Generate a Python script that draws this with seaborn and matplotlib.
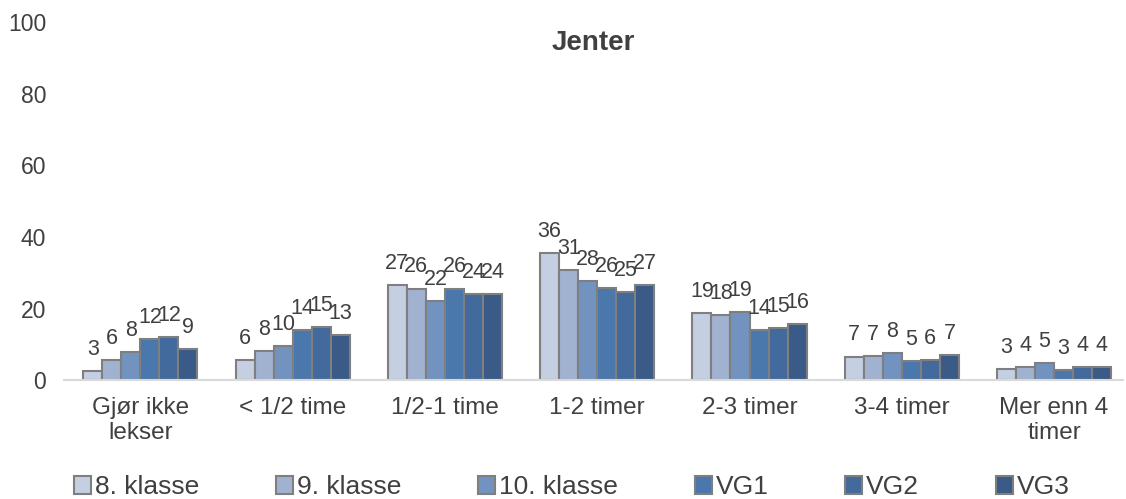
import pandas as pd
import matplotlib
matplotlib.use("Agg")
import matplotlib.pyplot as plt
import seaborn as sns

# Categories and series
categories = ["Gjør ikke\nlekser", "< 1/2 time", "1/2-1 time", "1-2 timer",
              "2-3 timer", "3-4 timer", "Mer enn 4\ntimer"]
grades = ["8. klasse", "9. klasse", "10. klasse", "VG1", "VG2", "VG3"]

klasse8 = [2.6, 5.6, 26.6, 35.6, 18.8, 6.6, 3.1]
klasse9 = [5.7, 8.2, 25.6, 30.8, 18.1, 6.7, 3.8]
klasse10 = [7.8, 9.6, 22.1, 27.8, 19.1, 7.6, 4.8]
vg1 = [11.6, 14.1, 25.6, 25.8, 14.1, 5.3, 2.8]
vg2 = [12.0, 14.8, 24.0, 24.6, 14.6, 5.6, 3.6]
vg3 = [8.6, 12.6, 24.1, 26.6, 15.7, 7.1, 3.8]

colors = ["#C5CFE2", "#A1B2D0", "#7293C0", "#4A77AC", "#436A9C", "#3A5A87"]

series = [klasse8, klasse9, klasse10, vg1, vg2, vg3]
rows = []
for grade, vals in zip(grades, series):
    for cat, v in zip(categories, vals):
        rows.append({"Kategori": cat, "Trinn": grade, "Prosent": v})
df = pd.DataFrame(rows)

sns.set_style("white")
plt.rcParams["font.family"] = ["Liberation Sans", "DejaVu Sans"]

fig = plt.figure(figsize=(11.26, 4.99), dpi=100)
ax = fig.add_axes([0.057, 0.238, 0.94, 0.718])

sns.barplot(data=df, x="Kategori", y="Prosent", hue="Trinn", palette=colors,
            saturation=1, width=0.75, edgecolor="#7F7F7F", linewidth=1.5,
            errorbar=None, ax=ax)

for cont in ax.containers:
    ax.bar_label(cont, fmt="%.0f", padding=8, fontsize=15.5, color="#404040")

ax.set_ylim(0, 100)
ax.set_xlim(-0.5, 6.45)
ax.set_yticks([0, 20, 40, 60, 80, 100])
ax.set_xlabel("")
ax.set_ylabel("")
ax.tick_params(axis="both", length=0, colors="#404040")
ax.tick_params(axis="x", labelsize=17.5, pad=12)
ax.tick_params(axis="y", labelsize=16.5, pad=13)
for s in ["top", "right", "left"]:
    ax.spines[s].set_visible(False)
ax.spines["bottom"].set_color("#D9D9D9")
ax.spines["bottom"].set_linewidth(1.5)

ax.text(0.5, 0.94, "Jenter", transform=ax.transAxes, ha="center", va="center",
        fontsize=20, fontweight="bold", color="#404040")

handles, labels = ax.get_legend_handles_labels()
ax.get_legend().remove()
fig.legend(handles, labels, loc="center", bbox_to_anchor=(0.508, 0.024),
           ncol=6, frameon=False, fontsize=19, handlelength=0.65,
           handleheight=0.65, handletextpad=0.15, columnspacing=2.9,
           labelcolor="#404040")

fig.savefig("out.png", dpi=100)
